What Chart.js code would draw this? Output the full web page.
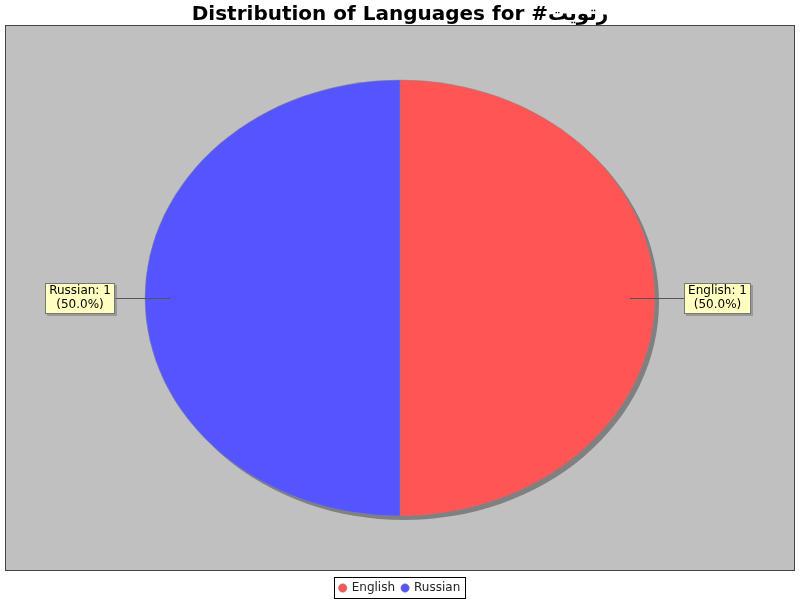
<!DOCTYPE html>
<html lang="en">
<head>
<meta charset="UTF-8">
<title>Distribution of Languages</title>
<script src="https://cdn.jsdelivr.net/npm/chart.js@4.4.0/dist/chart.umd.min.js"></script>
<style>
  html, body { margin: 0; padding: 0; background: #fff; }
  #wrap { width: 800px; height: 600px; }
</style>
</head>
<body>
<div id="wrap"><canvas id="pie"></canvas></div>
<script>
  const languages = ['English', 'Russian'];
  const counts = [1, 1];
  const sliceColors = ['#FF5555', '#5555FF'];
  const chartTitle = 'Distribution of Languages for #رتويت';

  const squash = 218 / 255; // pie is drawn as an ellipse
  Chart.defaults.font.family = '"DejaVu Sans", sans-serif';

  // grey plot area behind the pie
  const plotBg = {
    id: 'plotBg',
    beforeDraw(chart) {
      const {ctx, chartArea: a} = chart;
      ctx.save();
      ctx.fillStyle = '#C0C0C0';
      ctx.fillRect(a.left, a.top, a.width, a.height);
      ctx.strokeStyle = '#444';
      ctx.lineWidth = 1;
      ctx.strokeRect(a.left + 0.5, a.top + 0.5, a.width - 1, a.height - 1);
      ctx.restore();
    }
  };

  // squash vertically + shadow under the pie
  const ellipse = {
    id: 'ellipse',
    beforeDatasetsDraw(chart) {
      const arc = chart.getDatasetMeta(0).data[0];
      const ctx = chart.ctx;
      ctx.save();
      ctx.translate(arc.x, arc.y);
      ctx.scale(1, squash);
      ctx.translate(-arc.x, -arc.y);
      ctx.save();
      ctx.fillStyle = '#808080';
      ctx.beginPath();
      ctx.arc(arc.x + 4, arc.y + 4 / squash, arc.outerRadius, 0, Math.PI * 2);
      ctx.fill();
      ctx.restore();
    },
    afterDatasetsDraw(chart) {
      chart.ctx.restore();
    }
  };

  // yellow callout labels with leader lines
  const callouts = {
    id: 'callouts',
    afterDatasetsDraw(chart) {
      const ctx = chart.ctx;
      const data = chart.data.datasets[0].data;
      const total = data.reduce((a, b) => a + b, 0);
      ctx.save();
      ctx.font = '12px "DejaVu Sans", sans-serif';
      chart.getDatasetMeta(0).data.forEach((arc, i) => {
        const mid = (arc.startAngle + arc.endAngle) / 2;
        const rx = arc.outerRadius, ry = arc.outerRadius * squash;
        const ax = arc.x + rx * Math.cos(mid);
        const ay = arc.y + ry * Math.sin(mid);
        const right = Math.cos(mid) >= 0;
        const l1 = chart.data.labels[i] + ': ' + data[i];
        const l2 = '(' + (data[i] / total * 100).toFixed(1) + '%)';
        const w = Math.ceil(Math.max(ctx.measureText(l1).width, ctx.measureText(l2).width)) + 8;
        const h = 31;
        const bx = right ? ax + 29 : ax - 30 - w;
        const by = Math.round(ay) - 15;
        // leader line
        ctx.strokeStyle = '#555';
        ctx.lineWidth = 1;
        ctx.beginPath();
        ctx.moveTo(right ? ax - 25 : ax + 25, Math.round(ay) + 0.5);
        ctx.lineTo(right ? bx : bx + w, Math.round(ay) + 0.5);
        ctx.stroke();
        // shadow + box
        ctx.fillStyle = 'rgba(120,120,120,0.55)';
        ctx.fillRect(bx + 2, by + 2, w, h);
        ctx.fillStyle = '#FFFFC0';
        ctx.fillRect(bx, by, w, h);
        ctx.strokeStyle = '#777';
        ctx.strokeRect(bx + 0.5, by + 0.5, w - 1, h - 1);
        ctx.fillStyle = '#000';
        ctx.textAlign = 'center';
        ctx.textBaseline = 'middle';
        ctx.fillText(l1, bx + w / 2, by + 8);
        ctx.fillText(l2, bx + w / 2, by + 22);
      });
      ctx.restore();
    }
  };

  // legend sits a little lower than chart.js puts it, with a thin frame
  const legendFrame = {
    id: 'legendFrame',
    afterLayout(chart) {
      chart.legend.top += 4;
      chart.legend.bottom += 4;
    },
    afterDraw(chart) {
      const boxes = chart.legend.legendHitBoxes;
      if (!boxes || !boxes.length) return;
      const first = boxes[0], last = boxes[boxes.length - 1];
      const ctx = chart.ctx;
      ctx.save();
      ctx.strokeStyle = '#000';
      ctx.lineWidth = 1;
      const x = Math.round(first.left) - 5.5;
      const y = Math.round(first.top) - 4.5;
      const w = Math.round(last.left + last.width - first.left) + 10;
      const h = Math.round(first.height) + 9;
      ctx.strokeRect(x, y, w, h);
      ctx.restore();
    }
  };

  new Chart(document.getElementById('pie'), {
    type: 'pie',
    data: {
      labels: languages,
      datasets: [{
        data: counts,
        backgroundColor: sliceColors,
        borderColor: '#888',
        borderWidth: 0.5,
        hoverOffset: 0,
        radius: 255
      }]
    },
    options: {
      responsive: true,
      maintainAspectRatio: false,
      animation: false,
      events: [],
      layout: { padding: { left: 5, right: 5, top: 0, bottom: 0 } },
      plugins: {
        title: {
          display: true,
          text: chartTitle,
          color: '#000',
          font: { size: 20, weight: 'bold' },
          padding: { top: 3, bottom: -2 }
        },
        legend: {
          position: 'bottom',
          labels: {
            usePointStyle: true,
            pointStyle: 'circle',
            boxWidth: 6,
            boxHeight: 6,
            padding: 7,
            color: '#222',
            font: { size: 12 }
          }
        },
        tooltip: { enabled: false }
      }
    },
    plugins: [plotBg, ellipse, callouts, legendFrame]
  });
</script>
</body>
</html>
